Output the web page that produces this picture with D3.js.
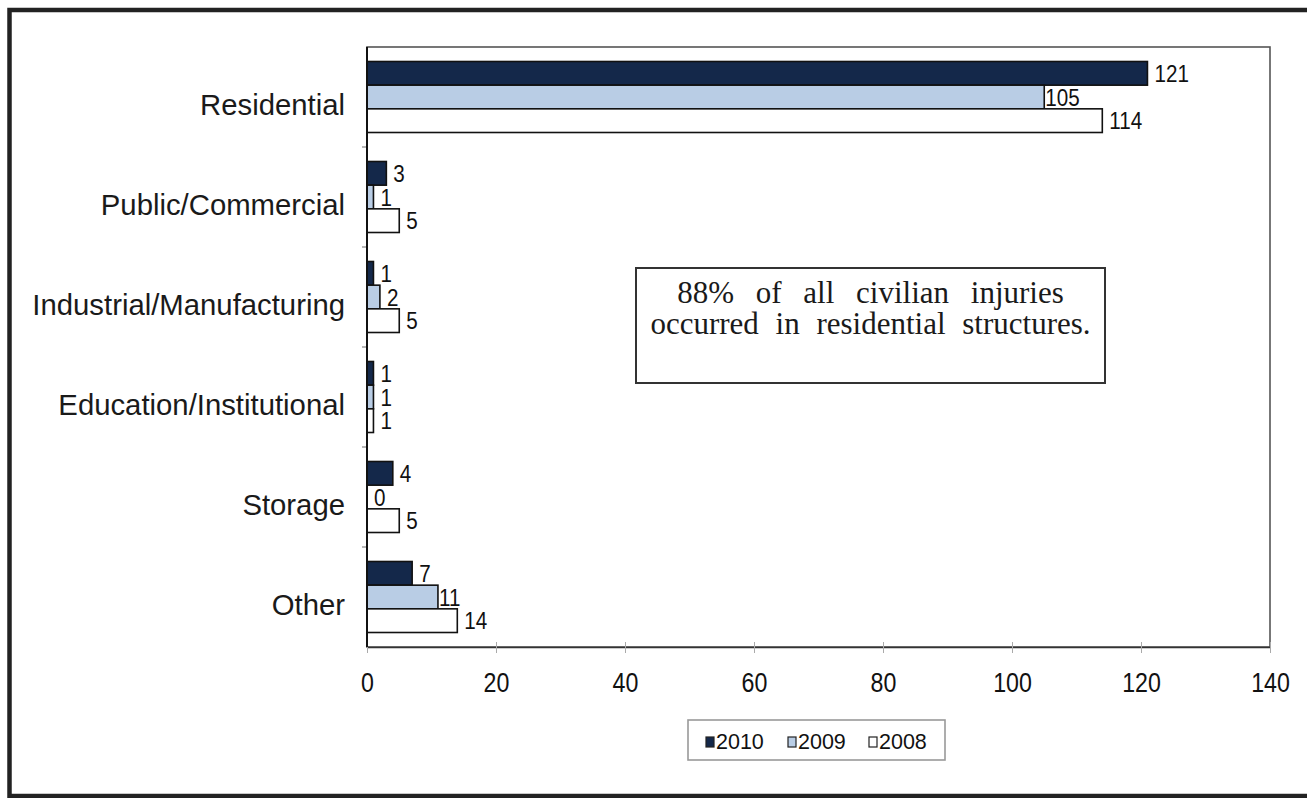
<!DOCTYPE html>
<html>
<head>
<meta charset="utf-8">
<script src="https://cdn.jsdelivr.net/npm/d3@7"></script>
<style>
  html, body { margin: 0; padding: 0; background: #fff; }
  svg { display: block; }
</style>
</head>
<body>
<svg id="chart" width="1307" height="798"></svg>
<script>
const categories = ["Residential", "Public/Commercial", "Industrial/Manufacturing", "Education/Institutional", "Storage", "Other"];
const seriesNames = ["2010", "2009", "2008"];
const values2010 = [121, 3, 1, 1, 4, 7];
const values2009 = [105, 1, 2, 1, 0, 11];
const values2008 = [114, 5, 5, 1, 5, 14];
const xTickValues = [0, 20, 40, 60, 80, 100, 120, 140];
const noteLines = ["88% of all civilian injuries", "occurred in residential structures."];

const seriesValues = [values2010, values2009, values2008];
const colors = ["#14284a", "#b9cde5", "#ffffff"];

const svg = d3.select("#chart");

// outer frame
svg.append("rect")
  .attr("x", 9.5).attr("y", 10).attr("width", 1340).attr("height", 786)
  .attr("fill", "#fff").attr("stroke", "#222").attr("stroke-width", 4.5);

const L = 367, R = 1270, T = 47, B = 647;

const x = d3.scaleLinear().domain([0, 140]).range([L, R]);
const y0 = d3.scaleBand().domain(categories).range([T, B]).paddingInner(0.29).paddingOuter(0.145);
const y1 = d3.scaleBand().domain(seriesNames).range([0, y0.bandwidth()]);

// plot frame
svg.append("rect")
  .attr("x", L).attr("y", T).attr("width", R - L).attr("height", B - T)
  .attr("fill", "none").attr("stroke", "#555").attr("stroke-width", 1.6);

// category separator ticks on y axis
const step = y0.step();
const bounds = categories.slice(1).map(c => y0(c) - y0.paddingInner() * step / 2);
svg.selectAll("line.ytick").data(bounds).enter().append("line")
  .attr("class", "ytick")
  .attr("x1", L - 5).attr("x2", L)
  .attr("y1", d => d).attr("y2", d => d)
  .attr("stroke", "#888").attr("stroke-width", 1.2);

// x axis
const xAxis = d3.axisBottom(x).tickValues(xTickValues).tickSize(6).tickSizeOuter(0).tickFormat(d3.format("d"));
const gx = svg.append("g").attr("transform", `translate(0,${B})`).call(xAxis);
gx.select(".domain").attr("stroke", "#333").attr("stroke-width", 1.6);
gx.selectAll(".tick line").attr("stroke", "#aaa").attr("stroke-width", 1).attr("y1", -5);
gx.selectAll(".tick text")
  .attr("y", 0).attr("dy", 0)
  .attr("transform", "translate(0,45) scale(0.86,1)")
  .attr("font-family", "Liberation Sans, Arial, sans-serif")
  .attr("font-size", 27).attr("fill", "#111");

// bars
const groups = svg.selectAll("g.cat").data(categories).enter().append("g")
  .attr("class", "cat")
  .attr("transform", d => `translate(0,${y0(d)})`);

groups.each(function(cat, ci) {
  const g = d3.select(this);
  seriesNames.forEach((s, si) => {
    const v = seriesValues[si][ci];
    g.append("rect")
      .attr("x", x(0)).attr("y", y1(s))
      .attr("width", x(v) - x(0)).attr("height", y1.bandwidth())
      .attr("fill", colors[si]).attr("stroke", "#111").attr("stroke-width", 1.6);
    const off = (si === 1 && v >= 10) ? 1 : 7;
    g.append("text")
      .attr("transform", `translate(${x(v) + off},${y1(s) + y1.bandwidth() / 2 + 8.5}) scale(0.86,1)`)
      .attr("font-family", "Liberation Sans, Arial, sans-serif")
      .attr("font-size", 24).attr("fill", "#111")
      .text(v);
  });
});

// y axis line
svg.append("line").attr("x1", L).attr("x2", L).attr("y1", T).attr("y2", B)
  .attr("stroke", "#111").attr("stroke-width", 2);

// category labels
svg.selectAll("text.cat").data(categories).enter().append("text")
  .attr("class", "cat")
  .attr("x", 345)
  .attr("y", d => y0(d) + y0.bandwidth() / 2 + 18)
  .attr("text-anchor", "end")
  .attr("font-family", "Liberation Sans, Arial, sans-serif")
  .attr("font-size", 29.3).attr("fill", "#1a1a1a")
  .text(d => d);

// annotation box
svg.append("rect")
  .attr("x", 636).attr("y", 268).attr("width", 469).attr("height", 115)
  .attr("fill", "#fff").attr("stroke", "#333").attr("stroke-width", 2);
svg.selectAll("text.note").data(noteLines).enter().append("text")
  .attr("class", "note")
  .attr("x", 870.5)
  .attr("y", (d, i) => 303 + i * 31)
  .attr("text-anchor", "middle")
  .attr("font-family", "Liberation Serif, Times New Roman, serif")
  .attr("font-size", 31).attr("fill", "#1a1a1a")
  .attr("word-spacing", (d, i) => i === 0 ? 14 : 9)
  .text(d => d);

// legend
svg.append("rect")
  .attr("x", 688).attr("y", 720).attr("width", 257).attr("height", 40)
  .attr("fill", "#fff").attr("stroke", "#999").attr("stroke-width", 1.6);
const legendX = [706, 788, 869];
seriesNames.forEach((s, i) => {
  svg.append("rect")
    .attr("x", legendX[i]).attr("y", 737).attr("width", 8).attr("height", 10)
    .attr("fill", colors[i]).attr("stroke", "#222").attr("stroke-width", 1.2);
  svg.append("text")
    .attr("x", legendX[i] + 10).attr("y", 749)
    .attr("font-family", "Liberation Sans, Arial, sans-serif")
    .attr("font-size", 21.5).attr("fill", "#111")
    .text(s);
});
</script>
</body>
</html>
